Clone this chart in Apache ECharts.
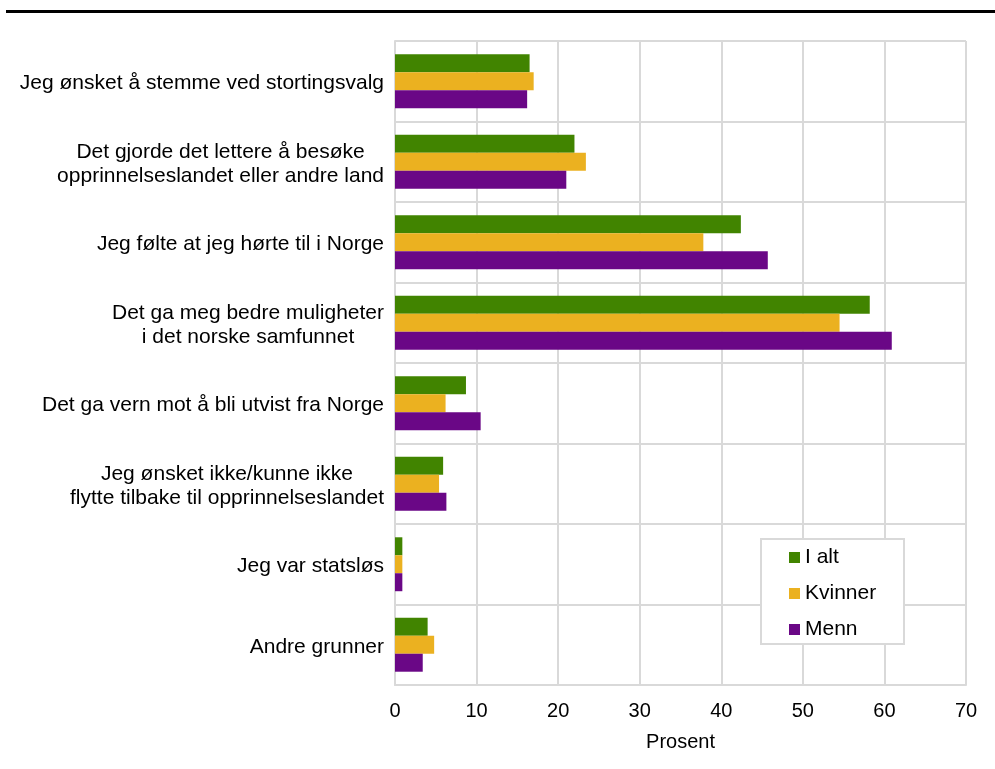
<!DOCTYPE html>
<html><head><meta charset="utf-8">
<script src="https://cdn.jsdelivr.net/npm/echarts@6/dist/echarts.min.js"></script>
<style>html,body{margin:0;padding:0;background:#fff}#c{width:995px;height:769px}</style>
</head><body><div id="c"></div>
<script>
const categories = [
  "Jeg ønsket å stemme ved stortingsvalg",
  "Det gjorde det lettere å besøke\nopprinnelseslandet eller andre land",
  "Jeg følte at jeg hørte til i Norge",
  "Det ga meg bedre muligheter\ni det norske samfunnet",
  "Det ga vern mot å bli utvist fra Norge",
  "Jeg ønsket ikke/kunne ikke\nflytte tilbake til opprinnelseslandet",
  "Jeg var statsløs",
  "Andre grunner"
];
const seriesNames = ["I alt", "Kvinner", "Menn"];
const iAlt    = [16.5, 22.0, 42.4, 58.2, 8.7, 5.9, 0.9, 4.0];
const kvinner = [17.0, 23.4, 37.8, 54.5, 6.2, 5.4, 0.9, 4.8];
const menn    = [16.2, 21.0, 45.7, 60.9, 10.5, 6.3, 0.9, 3.4];
const xTicks = [0, 10, 20, 30, 40, 50, 60, 70];
const colors = ["#418400", "#EBB120", "#6A0786"];

const chart = echarts.init(document.getElementById('c'));
const font = "Liberation Sans, Arial, sans-serif";
const mk = (name, data, i) => ({
  name, type: 'bar', data, barGap: '0%', barCategoryGap: '33%',
  itemStyle: { color: colors[i] }
});
chart.setOption({
  animation: false,
  textStyle: { fontFamily: font },
  grid: { left: 395, right: 29, top: 41, bottom: 84, containLabel: false },
  xAxis: {
    type: 'value', min: xTicks[0], max: xTicks[xTicks.length - 1], interval: 10,
    name: 'Prosent', nameLocation: 'middle', nameGap: 47,
    nameTextStyle: { fontSize: 20, color: '#000', fontFamily: font },
    axisLine: { show: true, lineStyle: { color: '#d9d9d9', width: 2 } },
    axisTick: { show: false },
    axisLabel: { fontSize: 20, color: '#000', margin: 16, fontFamily: font },
    splitLine: { show: true, lineStyle: { color: '#d9d9d9', width: 2 } }
  },
  yAxis: {
    type: 'category', data: categories, inverse: true,
    axisLine: { show: true, lineStyle: { color: '#d9d9d9', width: 2 } },
    axisTick: { show: false },
    axisLabel: {
      fontSize: 21, color: '#000', margin: 11, fontFamily: font, lineHeight: 24,
      padding: [4, 0, 0, 0],
      formatter: v => v.split('\n').map(s => '{c|' + s + '}').join('\n'),
      rich: { c: { align: 'center', fontSize: 21, color: '#000', fontFamily: font, lineHeight: 24 } }
    },
    splitLine: { show: true, lineStyle: { color: '#d9d9d9', width: 2 } }
  },
  legend: {
    orient: 'vertical', left: 789, top: 547, z: 10,
    padding: 0, itemGap: 15,
    itemWidth: 11, itemHeight: 11, icon: 'rect',
    textStyle: { fontSize: 21, color: '#000', fontFamily: font },
    data: seriesNames
  },
  graphic: [
    { type: 'rect', shape: { x: 6, y: 10, width: 989, height: 3 }, style: { fill: '#000' } },
    { type: 'rect', shape: { x: 761, y: 539, width: 143, height: 105 }, style: { fill: '#fff', stroke: '#d9d9d9', lineWidth: 2 }, z: 5, silent: true }
  ],
  series: [mk(seriesNames[0], iAlt, 0), mk(seriesNames[1], kvinner, 1), mk(seriesNames[2], menn, 2)]
});
</script></body></html>
